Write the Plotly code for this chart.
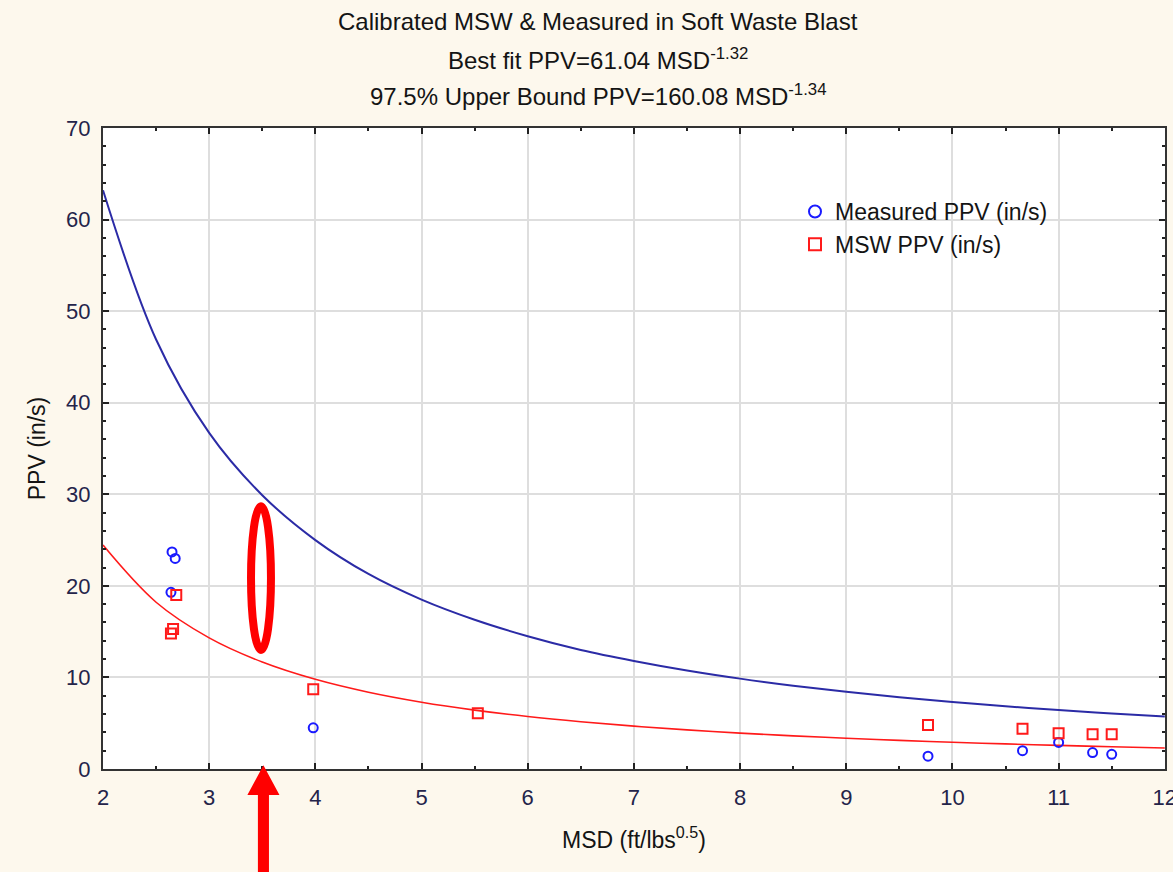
import plotly.graph_objects as go

# ---- data ----
meas_x = [2.65, 2.68, 2.64, 3.98, 9.77, 10.66, 11.00, 11.32, 11.50]
meas_y = [23.7, 23.0, 19.3, 4.5, 1.4, 2.0, 2.9, 1.8, 1.6]

msw_x = [2.69, 2.66, 2.64, 3.98, 5.53, 9.77, 10.66, 11.00, 11.32, 11.50]
msw_y = [19.0, 15.3, 14.8, 8.7, 6.1, 4.8, 4.4, 3.9, 3.8, 3.8]

curve_x = [2.0, 2.5, 3.0, 3.5, 4.0, 4.5, 5.0, 5.5, 6.0, 6.5, 7.0, 7.5,
           8.0, 8.5, 9.0, 9.5, 10.0, 10.5, 11.0, 11.5, 12.0]
upper_y = [63.2, 46.9, 36.7, 29.9, 25.0, 21.3, 18.5, 16.3, 14.5, 13.0, 11.8,
           10.76, 9.87, 9.10, 8.43, 7.84, 7.32, 6.85, 6.44, 6.07, 5.73]
best_y = [24.45, 18.21, 14.32, 11.68, 9.79, 8.38, 7.29, 6.43, 5.73, 5.16, 4.68,
          4.27, 3.92, 3.62, 3.36, 3.13, 2.92, 2.74, 2.58, 2.43, 2.30]

x_ticks = [2, 3, 4, 5, 6, 7, 8, 9, 10, 11, 12]
y_ticks = [0, 10, 20, 30, 40, 50, 60, 70]

title_lines = [
    "Calibrated MSW &amp; Measured in Soft Waste Blast",
    "Best fit PPV=61.04 MSD<sup>-1.32</sup>",
    "97.5% Upper Bound PPV=160.08 MSD<sup>-1.34</sup>",
]

FONT = "Liberation Sans, Arial, sans-serif"
BG = "#fdf8ed"

fig = go.Figure()
fig.add_trace(go.Scatter(x=curve_x, y=upper_y, mode="lines",
                         line=dict(color="#2b2ba6", width=2, shape="spline"),
                         showlegend=False, hoverinfo="skip"))
fig.add_trace(go.Scatter(x=curve_x, y=best_y, mode="lines",
                         line=dict(color="#ff1a1a", width=1.6, shape="spline"),
                         showlegend=False, hoverinfo="skip"))
fig.add_trace(go.Scatter(x=meas_x, y=meas_y, mode="markers", name="Measured PPV (in/s)",
                         marker=dict(symbol="circle-open", size=9, color="#1a1aff",
                                     line=dict(width=2, color="#1a1aff"))))
fig.add_trace(go.Scatter(x=msw_x, y=msw_y, mode="markers", name="MSW PPV (in/s)",
                         marker=dict(symbol="square-open", size=10, color="#ff1a1a",
                                     line=dict(width=2, color="#ff1a1a"))))

# red ellipse
fig.add_shape(type="circle", xref="x", yref="y", x0=3.394, x1=3.582, y0=13.0, y1=28.7,
              line=dict(color="#ff0000", width=8), layer="above")
# red arrow (below the x axis)
cx = 3.511
hw, sw = 0.151, 0.052
path = (f"M {cx},0.006 L {cx+hw},-0.0406 L {cx+sw},-0.0406 L {cx+sw},-0.2 "
        f"L {cx-sw},-0.2 L {cx-sw},-0.0406 L {cx-hw},-0.0406 Z")
fig.add_shape(type="path", xref="x", yref="paper", path=path,
              fillcolor="#ff0000", line=dict(width=0), layer="above")

for i, (t, ypx) in enumerate(zip(title_lines, [22, 59, 95])):
    fig.add_annotation(text=t, xref="paper", yref="paper",
                       x=(598 - 103) / 1062, y=(769 - ypx) / 641,
                       showarrow=False, xanchor="center", yanchor="middle",
                       font=dict(family=FONT, size=24, color="#141414"))

axis_common = dict(showline=True, linecolor="#333333", linewidth=2, mirror="ticks",
                   showgrid=True, gridcolor="#dedede", gridwidth=2, zeroline=False,
                   ticks="inside", ticklen=6, tickcolor="#222222", tickwidth=2,
                   ticklabeloverflow="allow", automargin=False,
                   tickfont=dict(family=FONT, size=22, color="#24244a"))

fig.update_layout(
    width=1173, height=872,
    paper_bgcolor=BG, plot_bgcolor="white",
    margin=dict(l=103, r=8, t=128, b=103),
    xaxis=dict(range=[2, 12.002], tickvals=x_ticks, ticklabelstandoff=8,
               minor=dict(dtick=0.5, ticks="inside", ticklen=3, tickcolor="#222222", showgrid=False),
               title=dict(text="MSD (ft/lbs<sup>0.5</sup>)", standoff=22,
                          font=dict(family=FONT, size=23, color="#141414")),
               **axis_common),
    yaxis=dict(range=[0, 70], tickvals=y_ticks, ticklabelstandoff=6,
               minor=dict(dtick=2, ticks="inside", ticklen=3, tickcolor="#222222", showgrid=False),
               title=dict(text="PPV (in/s)", standoff=14,
                          font=dict(family=FONT, size=23, color="#141414")),
               **axis_common),
    legend=dict(x=(795 - 103) / 1062, y=(769 - 190) / 641, xanchor="left", yanchor="top",
                bgcolor="rgba(0,0,0,0)", font=dict(family=FONT, size=23, color="#141414"),
                tracegroupgap=0, itemsizing="constant"),
    showlegend=True,
)

fig.write_html("out.html")
